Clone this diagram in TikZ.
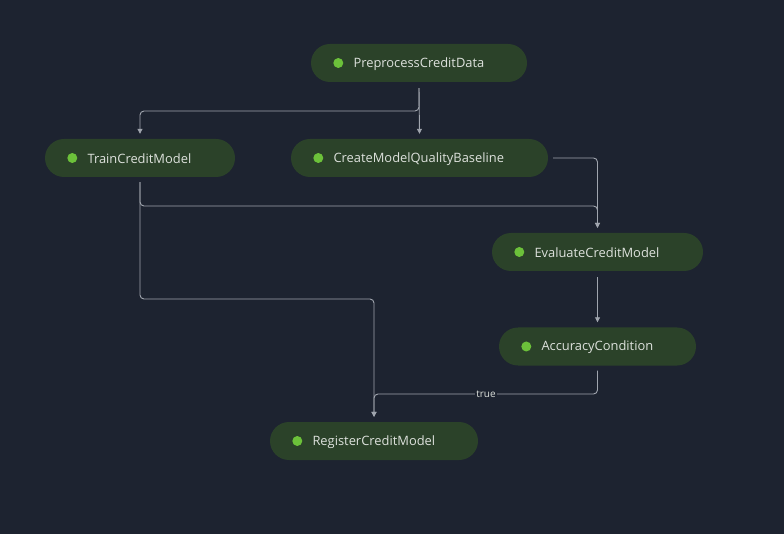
\documentclass[tikz,border=0pt]{standalone}
\usepackage{fontspec}
\setmainfont{Open Sans}
\usetikzlibrary{arrows.meta}
\definecolor{bg}{HTML}{1D2330}
\definecolor{nodefill}{HTML}{2B4229}
\definecolor{dotgreen}{HTML}{6CC13A}
\definecolor{txt}{HTML}{DDE1DC}
\definecolor{edgecol}{HTML}{A0A5AE}
\tikzset{
  stepbox/.style={fill=nodefill, draw=none, rounded corners=19pt, minimum height=38pt, inner sep=0pt},
  dotmark/.style={circle, fill=dotgreen, draw=none, minimum size=10pt, inner sep=0pt},
  lbl/.style={anchor=west, text=txt, font=\fontsize{12.9}{14}\selectfont, inner sep=0pt},
  edge/.style={draw=edgecol, line width=0.9pt, rounded corners=4pt, -{Triangle[length=5pt,width=5pt]}},
  edgelbl/.style={fill=bg, text=txt, font=\fontsize{10}{11}\selectfont, inner sep=1.5pt},
}
\begin{document}
\begin{tikzpicture}[x=1pt,y=-1pt]
\fill[bg] (0,0) rectangle (784,534);
\useasboundingbox (0,0) rectangle (784,534);
% nodes
\node[stepbox, minimum width=216pt] (pre) at (419,63) {};
\node[stepbox, minimum width=190pt] (train) at (140,158) {};
\node[stepbox, minimum width=257pt] (create) at (419.5,158) {};
\node[stepbox, minimum width=211pt] (eval) at (597.5,252) {};
\node[stepbox, minimum width=197pt] (acc) at (597.5,346.5) {};
\node[stepbox, minimum width=208pt] (reg) at (374,441) {};
% dots and labels
\foreach \n/\t in {pre/PreprocessCreditData, train/TrainCreditModel, create/CreateModelQualityBaseline, eval/EvaluateCreditModel, acc/AccuracyCondition, reg/RegisterCreditModel}{
  \node[dotmark] (\n dot) at ([xshift=27.5pt]\n.west) {};
  \node[lbl] (\n txt) at ([xshift=42.5pt,yshift=-0.8pt]\n.west) {\t};
}
% junction rows
\coordinate (r1) at (0,111);
\coordinate (r2) at (0,206);
\coordinate (r3) at (0,299);
\coordinate (r4) at (0,394);
% edges
\draw[edge] ([yshift=-6pt]pre.south) -- ([yshift=5pt]create.north);
\draw[edge] ([yshift=-6pt]pre.south) -- (pre.south |- r1) -- (train.north |- r1) -- ([yshift=5pt]train.north);
\draw[edge] ([xshift=5pt]create.east) -- (eval.north |- create.east) -- ([yshift=5pt]eval.north);
\draw[edge] ([yshift=-5pt]train.south) -- (train.south |- r2) -- (eval.north |- r2) -- ([yshift=5pt]eval.north);
\draw[edge] ([yshift=-5pt]train.south) -- (train.south |- r3) -- (reg.north |- r3) -- ([yshift=5pt]reg.north);
\draw[edge] ([yshift=-6pt]eval.south) -- ([yshift=5pt]acc.north);
\draw[edge] ([yshift=-5pt]acc.south) -- (acc.south |- r4) -- (reg.north |- r4) -- ([yshift=5pt]reg.north);
\node[edgelbl] (truelbl) at (486,394) {true};
\end{tikzpicture}
\end{document}
